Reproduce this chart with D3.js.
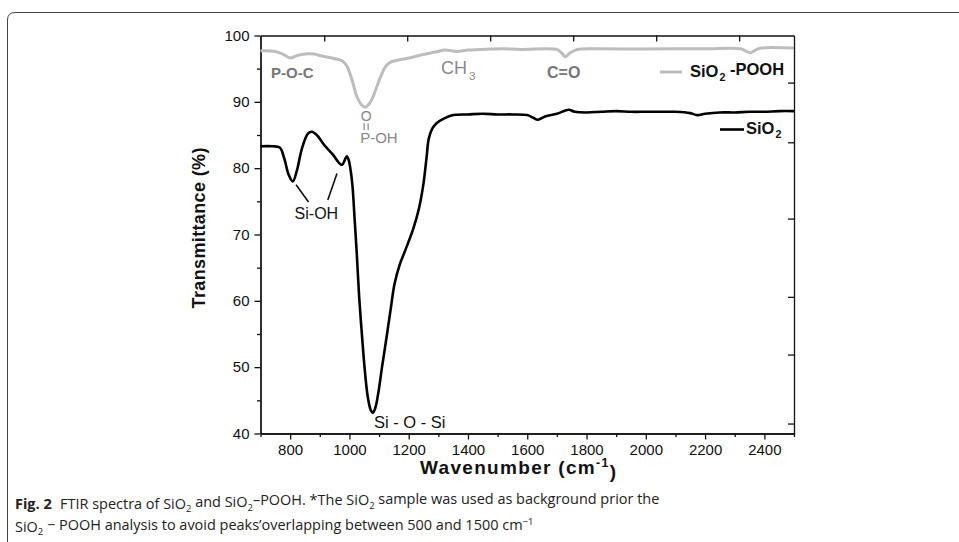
<!DOCTYPE html>
<html>
<head>
<meta charset="utf-8">
<script src="https://cdn.jsdelivr.net/npm/d3@7"></script>
<style>
  body { margin:0; background:#fff; }
  svg { display:block; }
  .tick text { font-family:"Liberation Sans", Arial, sans-serif; font-size:15px; fill:#111; }
  .axis path, .axis line { stroke:#111; stroke-width:1.3; }
</style>
</head>
<body>
<svg id="stage" width="959" height="542"></svg>
<script>
// ---- data ----
const wnSiO2 = [700,740,765,780,795,809,822,840,860,873,890,915,945,965,975,985,991,997,1003,1010,1018,1025,1033,1042,1052,1062,1072,1079,1087,1097,1110,1127,1140,1152,1170,1190,1215,1235,1250,1260,1268,1280,1295,1320,1350,1400,1450,1500,1550,1600,1620,1636,1660,1700,1740,1760,1800,1850,1900,1950,2000,2050,2100,2150,2173,2200,2250,2300,2350,2400,2450,2500];
const tSiO2  = [83.3,83.3,83.1,81.5,79.0,78.0,79.5,83.0,85.2,85.5,85.0,83.5,82.0,80.8,80.5,81.3,81.8,81.3,80.0,77.5,72.0,67.0,60.5,55.0,49.5,45.5,43.5,43.1,43.8,46.0,50.0,55.0,59.0,62.5,65.5,67.8,70.8,74.0,77.7,81.5,84.5,86.0,86.8,87.5,88.0,88.1,88.2,88.1,88.1,88.0,87.6,87.3,87.8,88.2,88.8,88.5,88.4,88.5,88.6,88.5,88.5,88.5,88.5,88.3,88.0,88.2,88.4,88.4,88.5,88.5,88.6,88.6];

const wnPOOH = [700,750,775,800,825,851,880,907,940,975,990,1000,1012,1025,1040,1053,1065,1080,1100,1120,1135,1166,1200,1245,1290,1323,1363,1400,1475,1520,1577,1700,1715,1729,1745,1768,1850,1982,2100,2200,2320,2340,2353,2370,2387,2500];
const tPOOH  = [97.7,97.6,97.2,96.6,97.0,97.2,97.2,96.9,96.6,96.2,95.5,94.5,92.8,90.8,89.6,89.2,89.6,90.8,93.2,95.2,95.9,96.3,96.6,97.1,97.5,97.8,97.6,97.8,97.95,98.0,97.9,97.9,97.4,96.8,97.4,97.9,98.0,97.95,98.0,98.0,98.0,97.6,97.4,97.8,98.1,98.1];

const xMajor = [800,1000,1200,1400,1600,1800,2000,2200,2400];
const xMinor = [700,900,1100,1300,1500,1700,1900,2100,2300,2500];
const yMajor = [40,50,60,70,80,90,100];
const yMinor = [45,55,65,75,85,95];
// leftover ticks of the overlaid frame (top and right edges)
const topTicks   = [915,1195,1475,1755,2035,2315];
const rightTicks = [92.9,83.9,72.4,60.6,51.9,41.5];

const svg = d3.select("#stage");
const FONT = '"Liberation Sans", Arial, sans-serif';

// frame of the figure panel
svg.append("path")
  .attr("d","M7.5,560 L7.5,20 Q7.5,12.5 15,12.5 L980,12.5")
  .attr("fill","none").attr("stroke","#444").attr("stroke-width",1);

const L=260.5, R=794, T=35.5, B=433.5;
const x = d3.scaleLinear().domain([700,2500]).range([L,R]);
const y = d3.scaleLinear().domain([40,100]).range([B,T]);

// ---- axes ----
svg.append("g").attr("class","axis").attr("transform",`translate(0,${B})`)
  .call(d3.axisBottom(x).tickValues(xMajor).tickSize(6).tickSizeOuter(0).tickPadding(5).tickFormat(d3.format("d")));
svg.append("g").attr("class","axis").attr("transform",`translate(0,${B})`)
  .call(d3.axisBottom(x).tickValues(xMinor).tickSize(3.5).tickSizeOuter(0).tickFormat(""));
svg.append("g").attr("class","axis").attr("transform",`translate(${L},0)`)
  .call(d3.axisLeft(y).tickValues(yMajor).tickSize(6).tickSizeOuter(0).tickPadding(5));
svg.append("g").attr("class","axis").attr("transform",`translate(${L},0)`)
  .call(d3.axisLeft(y).tickValues(yMinor).tickSize(3.5).tickSizeOuter(0).tickFormat(""));
svg.append("g").attr("class","axis").attr("transform",`translate(0,${T})`)
  .call(d3.axisTop(x).tickValues(topTicks).tickSize(-6).tickSizeOuter(0).tickFormat(""));
svg.append("g").attr("class","axis").attr("transform",`translate(${R},0)`)
  .call(d3.axisRight(y).tickValues(rightTicks).tickSize(-6).tickSizeOuter(0).tickFormat(""));

// ---- curves ----
const line = d3.line().x(d=>x(d[0])).y(d=>y(d[1])).curve(d3.curveCatmullRom.alpha(0.5));
svg.append("path").datum(d3.zip(wnPOOH,tPOOH)).attr("d",line)
  .attr("fill","none").attr("stroke","#bdbdbd").attr("stroke-width",3).attr("stroke-linejoin","round");
svg.append("path").datum(d3.zip(wnSiO2,tSiO2)).attr("d",line)
  .attr("fill","none").attr("stroke","#000").attr("stroke-width",2.6).attr("stroke-linejoin","round");

// ---- helper for text with sub/superscript pieces ----
function rich(g, parts, attrs){
  const t = g.append("text").attr("font-family",FONT);
  for (const k in attrs) t.attr(k, attrs[k]);
  parts.forEach(p=>{
    const s = t.append("tspan").text(p.t);
    if (p.sub) s.attr("font-size","0.65em").attr("dy", p.dy || "0.35em");
    if (p.sup) s.attr("font-size","0.65em").attr("dy","-0.55em");
    if (p.back) s.attr("dy", p.back);
    if (p.dx) s.attr("dx", p.dx);
    if (p.bold) s.attr("font-weight","bold");
  });
  return t;
}

// ---- annotations ----
const ann = svg.append("g");
rich(ann,[{t:"P-O-C"}],{x:271,y:78,"font-size":15,"font-weight":"bold",fill:"#777"});
rich(ann,[{t:"CH"},{t:"3",sub:true,dx:2,dy:"0.55em"}],{x:441,y:74,"font-size":18,fill:"#8a8a8a"});
rich(ann,[{t:"C=O"}],{x:547,y:78,"font-size":16,"font-weight":"bold",fill:"#777"});
rich(ann,[{t:"O"}],{x:x(1053)+1,y:y(89.2)+14,"font-size":14,fill:"#888","text-anchor":"middle"});
ann.append("path").attr("d",`M${x(1053)-1},${y(89.2)+16} v7 M${x(1053)+3},${y(89.2)+16} v7`)
  .attr("stroke","#888").attr("stroke-width",1.2);
rich(ann,[{t:"P-OH"}],{x:x(1053)-5,y:y(89.2)+36,"font-size":15,fill:"#888"});

rich(ann,[{t:"Si-OH"}],{x:x(815),y:y(72.3),"font-size":16,fill:"#111"});
ann.append("line").attr("x1",x(820)).attr("y1",y(77.5)).attr("x2",x(862)).attr("y2",y(74.9))
  .attr("stroke","#111").attr("stroke-width",1.6);
ann.append("line").attr("x1",x(958)).attr("y1",y(79.2)).attr("x2",x(927)).attr("y2",y(75.2))
  .attr("stroke","#111").attr("stroke-width",1.6);
rich(ann,[{t:"Si - O - Si"}],{x:x(1083),y:428,"font-size":16.5,fill:"#111"});

// ---- legend ----
const lg = svg.append("g");
lg.append("line").attr("x1",660).attr("x2",682).attr("y1",72).attr("y2",72)
  .attr("stroke","#bdbdbd").attr("stroke-width",3);
rich(lg,[{t:"SiO"},{t:"2",sub:true,dx:1},{t:" -POOH",back:"-0.35em"}],{x:690,y:77,"font-size":16.5,"font-weight":"bold",fill:"#111"});
lg.append("line").attr("x1",720).attr("x2",744).attr("y1",129.5).attr("y2",129.5)
  .attr("stroke","#000").attr("stroke-width",2.6);
rich(lg,[{t:"SiO"},{t:"2",sub:true,dx:1}],{x:746,y:134,"font-size":16.5,"font-weight":"bold",fill:"#111"});

// ---- axis titles ----
rich(svg,[{t:"Transmittance (%)"}],{transform:"translate(205,228) rotate(-90)","text-anchor":"middle","font-size":18,"font-weight":"bold",fill:"#111",textLength:161,lengthAdjust:"spacing"});
rich(svg,[{t:"Wavenumber (cm"},{t:"-1",sup:true},{t:")",back:"0.55em"}],{x:420,y:474,"font-size":19,"font-weight":"bold",fill:"#111",textLength:196,lengthAdjust:"spacing"});

// ---- caption: one font size for both lines, fitted on the first line ----
const CAP = '"Open Sans","Noto Sans",sans-serif';
const c0 = rich(svg,[{t:"Fig. 2"}],{x:15,y:509,"font-weight":"bold",fill:"#222"});
const c1 = rich(svg,[{t:"FTIR spectra of SiO"},{t:"2",sub:true},{t:" and SiO",back:"-0.35em"},{t:"2",sub:true},
  {t:"\u2013POOH. *The SiO",back:"-0.35em"},{t:"2",sub:true},{t:" sample was used as background prior the",back:"-0.35em"}],
  {x:60,y:509,fill:"#222"});
const c2 = rich(svg,[{t:"SiO"},{t:"2",sub:true},{t:" \u2212 POOH analysis to avoid peaks\u2019overlapping between 500 and 1500 cm",back:"-0.35em"},{t:"\u22121",sup:true}],
  {x:15,y:532,fill:"#222"});
[c0,c1,c2].forEach(t=>t.attr("font-family",CAP).attr("font-size",16));
const capSize = 16*600/c1.node().getComputedTextLength();
[c0,c1,c2].forEach(t=>t.attr("font-size",capSize));
</script>
</body>
</html>
